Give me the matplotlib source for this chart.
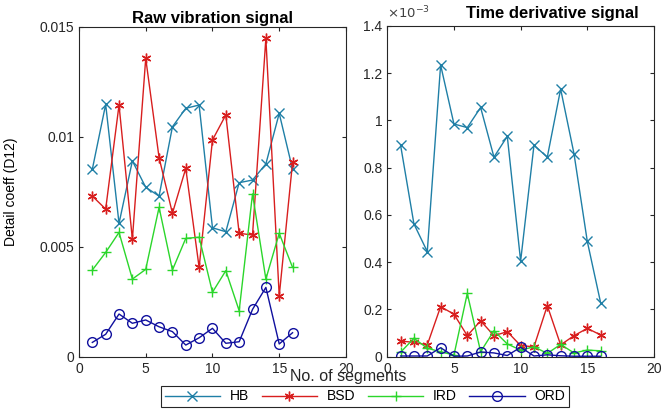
import matplotlib
matplotlib.use('Agg')
import matplotlib.pyplot as plt
from matplotlib.ticker import FuncFormatter

plt.rcParams['font.family'] = ['Liberation Sans', 'DejaVu Sans']

segments = list(range(1, 17))

# Raw vibration signal
raw_hb = [0.00852, 0.01147, 0.00606, 0.0089, 0.00770, 0.0073, 0.01045, 0.01129,
          0.01144, 0.00586, 0.00568, 0.00791, 0.00803, 0.00876, 0.01106, 0.00852]
raw_bsd = [0.0073, 0.00671, 0.01144, 0.00534, 0.01356, 0.00905, 0.00652, 0.00856,
           0.00406, 0.00985, 0.01099, 0.00561, 0.00553, 0.01447, 0.00276, 0.00884]
raw_ird = [0.00394, 0.00474, 0.00565, 0.00353, 0.00397, 0.00679, 0.00394, 0.00538,
           0.00543, 0.00293, 0.00391, 0.00209, 0.0074, 0.00353, 0.00561, 0.00406]
raw_ord = [0.00065, 0.00102, 0.00194, 0.00152, 0.00167, 0.00136, 0.00114, 0.00053,
           0.00086, 0.00129, 0.00061, 0.00068, 0.00215, 0.00315, 0.00058, 0.00109]

# Time derivative signal (values in units of 1e-3)
der_hb = [0.895, 0.562, 0.445, 1.235, 0.985, 0.970, 1.055, 0.845,
          0.933, 0.405, 0.895, 0.845, 1.133, 0.860, 0.488, 0.228]
der_bsd = [0.066, 0.061, 0.050, 0.212, 0.180, 0.089, 0.152, 0.089,
           0.106, 0.047, 0.042, 0.216, 0.050, 0.089, 0.120, 0.092]
der_ird = [0.019, 0.078, 0.036, 0.021, 0.007, 0.268, 0.021, 0.110,
           0.054, 0.028, 0.042, 0.014, 0.052, 0.016, 0.028, 0.025]
der_ord = [0.003, 0.003, 0.003, 0.038, 0.002, 0.003, 0.020, 0.016,
           0.005, 0.040, 0.003, 0.008, 0.004, 0.002, 0.002, 0.002]

labels = ['HB', 'BSD', 'IRD', 'ORD']
colors = ['#1f7fa6', '#d81e1e', '#2bd62b', '#10109e']
markers = ['x', (6, 2, 0), '+', 'o']

fig = plt.figure(figsize=(6.62, 4.12), dpi=100)
ax1 = fig.add_axes([0.1193, 0.1342, 0.4033, 0.801])
ax2 = fig.add_axes([0.585, 0.1342, 0.4029, 0.8027])

for data, lab, c, m in zip([raw_hb, raw_bsd, raw_ird, raw_ord], labels, colors, markers):
    ax1.plot(segments, data, color=c, marker=m, markersize=7, linewidth=1,
             markerfacecolor='none', markeredgewidth=1, label=lab)

for data, lab, c, m in zip([der_hb, der_bsd, der_ird, der_ord], labels, colors, markers):
    ax2.plot(segments, [v * 1e-3 for v in data], color=c, marker=m, markersize=7,
             linewidth=1, markerfacecolor='none', markeredgewidth=1)

ax1.set_xlim(0, 20)
ax1.set_ylim(0, 0.015)
ax1.set_xticks([0, 5, 10, 15, 20])
ax1.set_yticks([0, 0.005, 0.01, 0.015])
ax1.yaxis.set_major_formatter(FuncFormatter(lambda v, p: f'{v:g}'))
ax1.set_title('Raw vibration signal', fontsize=12, fontweight='bold', pad=3)
ax1.set_ylabel('Detail coeff (D12)', fontsize=10)
ax1.yaxis.set_label_coords(-0.23, 0.5)

ax2.set_xlim(0, 20)
ax2.set_ylim(0, 1.4e-3)
ax2.set_xticks([0, 5, 10, 15, 20])
ax2.set_yticks([i * 0.2e-3 for i in range(8)])
ax2.yaxis.set_major_formatter(FuncFormatter(lambda v, p: f'{round(v * 1e3, 1):g}'))
ax2.set_title('Time derivative signal', fontsize=12, fontweight='bold', x=0.62, pad=6)
ax2.text(0.0, 1.015, r'$\times 10^{-3}$', transform=ax2.transAxes, fontsize=9.5,
         color='#404040', ha='left', va='bottom')

for ax in (ax1, ax2):
    ax.tick_params(direction='in', top=True, right=True, labelsize=10,
                   colors='#262626', length=3)
    for s in ax.spines.values():
        s.set_color('#262626')
        s.set_linewidth(0.8)

fig.text(348 / 662, 1 - 376 / 412, 'No. of segments', ha='center', va='center',
         fontsize=11.5, color='#262626')

leg = fig.legend(*ax1.get_legend_handles_labels(), loc='center', ncol=4,
                 bbox_to_anchor=(365 / 662, 1 - 396.5 / 412), fontsize=10,
                 handlelength=4.0, columnspacing=0.9, handletextpad=0.7,
                 borderpad=0.25, fancybox=False, framealpha=1, edgecolor='#262626')
leg.get_frame().set_linewidth(0.8)

fig.savefig('out.png', dpi=100)
